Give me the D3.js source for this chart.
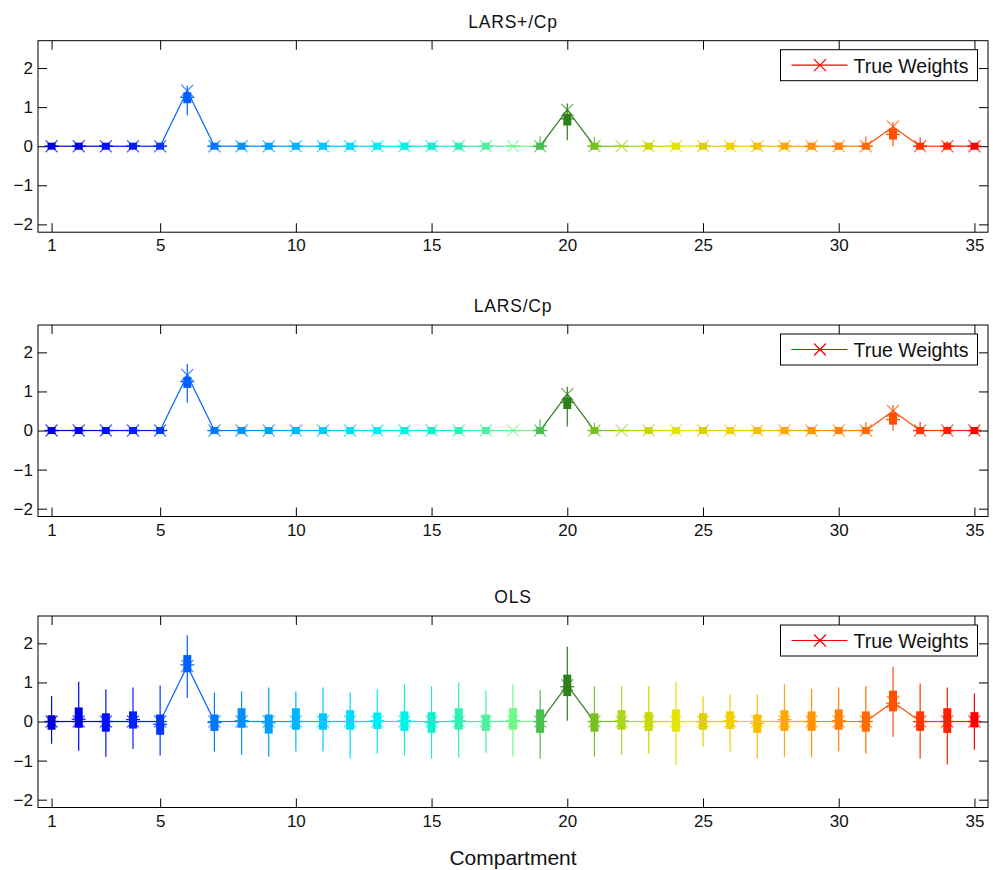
<!DOCTYPE html>
<html><head><meta charset="utf-8">
<script src="https://cdn.jsdelivr.net/npm/d3@7"></script>
<style>
body{margin:0;background:#fff;}
text{font-family:"Liberation Sans",Arial,Helvetica,sans-serif;fill:#111;}
</style></head>
<body><svg id="c" width="993" height="870"></svg>
<script>
// ---- data ----
const compartments = [1,2,3,4,5,6,7,8,9,10,11,12,13,14,15,16,17,18,19,20,21,22,23,24,25,26,27,28,29,30,31,32,33,34,35];
const xTicks = [1,5,10,15,20,25,30,35];
const yTicks = [-2,-1,0,1,2];
const panelTitles = ["LARS+/Cp","LARS/Cp","OLS"];
const legendLabel = "True Weights";
const xLabel = "Compartment";
const colors = ["#0000d8","#0000f0","#0010ff","#0020ff","#0038ff","#0060ff","#0078ff","#0090ff","#00a0ff","#00b4ff",
  "#00c8ff","#00dcff","#00ecf8","#00f4e8","#10f0d0","#30f0b8","#50f0a0","#70f888","#48c050","#2e8018",
  "#78c020","#a8d818","#c8d800","#e4e400","#dcd000","#f0d000","#f8bc00","#ffa800","#ff9400","#ff8000",
  "#ff6c00","#ff5000","#ff3800","#ff2000","#ff0000"];
const trueWeights = [0,0,0,0,0,1.42,0,0,0,0, 0,0,0,0,0,0,0,0,0,0.93, 0,0,0,0,0,0,0,0,0,0, 0,0.5,0,0,0];

// LARS+/Cp
const larsPlusQ1  = [0,0,0,0,0,1.10,0,0,0,0, 0,0,0,0,0,0,0,null,0,0.53, 0,null,0,0,0,0,0,0,0,0, 0,0.17,0,0,0];
const larsPlusQ3  = [0,0,0,0,0,1.38,0,0,0,0, 0,0,0,0,0,0,0,null,0,0.83, 0,null,0,0,0,0,0,0,0,0, 0,0.45,0,0,0];
const larsPlusMed = [0,0,0,0,0,1.25,0,0,0,0, 0,0,0,0,0,0,0,0,0,0.70, 0,0,0,0,0,0,0,0,0,0, 0,0.30,0,0,0];
const larsPlusLo  = [0,0,0,0,0,0.79,0,0,0,0, 0,0,0,0,0,0,0,0,0,0.15, 0,0,0,0,0,0,0,0,0,0, 0,0,0,0,0];
const larsPlusHi  = [0,0,0,0,0,1.55,0,0,0,0, 0,0,0,0,0,0,0,0,0.25,1.09, 0.24,0,0,0,0,0,0,0,0,0, 0.25,0.62,0.22,0.12,0];

// LARS/Cp
const larsQ1  = [0,0,0,0,0,1.09,0,0,0,0, 0,0,0,0,0,0,0,null,0,0.55, 0,null,0,0,0,0,0,0,0,0, 0,0.15,0,0,0];
const larsQ3  = [0,0,0,0,0,1.37,0,0,0,0, 0,0,0,0,0,0,0,null,0,0.85, 0,null,0,0,0,0,0,0,0,0, 0,0.45,0,0,0];
const larsMed = [0,0,0,0,0,1.25,0,0,0,0, 0,0,0,0,0,0,0,0,0,0.72, 0,0,0,0,0,0,0,0,0,0, 0,0.28,0,0,0];
const larsLo  = [0,0,0,0,0,0.71,0,0,0,0, 0,0,0,0,0,0,0,0,0,0.10, 0,0,0,0,0,0,0,0,0,0, 0,0,0,0,0];
const larsHi  = [0,0,0,0,0,1.70,0,0,0,0, 0,0,0,0,0,0,0,0,0.28,1.12, 0.2,0,0,0,0,0,0,0,0,0, 0.22,0.65,0.22,0.1,0];

// OLS
const olsQ1  = [-0.21,-0.16,-0.26,-0.18,-0.34,1.26,-0.24,-0.16,-0.31,-0.21, -0.21,-0.21,-0.19,-0.24,-0.29,-0.21,-0.24,-0.21,-0.29,0.65,
  -0.26,-0.21,-0.24,-0.26,-0.21,-0.19,-0.29,-0.24,-0.24,-0.21, -0.26,0.26,-0.24,-0.29,-0.15];
const olsQ3  = [0.16,0.36,0.21,0.26,0.18,1.70,0.18,0.34,0.18,0.34, 0.21,0.29,0.23,0.26,0.24,0.34,0.18,0.34,0.31,1.20,
  0.21,0.29,0.24,0.31,0.21,0.26,0.18,0.29,0.26,0.31, 0.26,0.79,0.26,0.34,0.24];
const olsMed = [0,0.06,0,0.05,-0.07,1.45,-0.03,0.02,-0.03,0, 0,0,0.02,0.02,-0.03,0.02,0,0.03,0,0.89,
  0,0.02,0,0,0,0.02,-0.05,0.05,0,0.02, 0,0.47,0,0,0];
const olsLo  = [-0.57,-0.75,-0.90,-0.70,-0.87,0.60,-0.77,-0.85,-0.90,-0.77, -0.77,-0.95,-0.82,-0.87,-0.95,-0.92,-0.80,-0.90,-0.95,0.02,
  -0.90,-0.85,-0.82,-1.12,-0.64,-0.77,-0.95,-0.90,-0.92,-0.77, -0.82,-0.39,-0.95,-1.10,-0.72];
const olsHi  = [0.65,1.02,0.82,0.87,0.92,2.21,0.74,0.77,0.87,0.77, 0.87,0.74,0.82,0.95,0.90,1.00,0.80,0.95,0.80,1.91,
  0.90,0.90,0.90,1.02,0.64,0.69,0.69,0.95,0.84,0.87, 0.90,1.40,0.97,0.87,0.72];

const panels = [
  {title: panelTitles[0], q1: larsPlusQ1, q3: larsPlusQ3, med: larsPlusMed, lo: larsPlusLo, hi: larsPlusHi},
  {title: panelTitles[1], q1: larsQ1, q3: larsQ3, med: larsMed, lo: larsLo, hi: larsHi},
  {title: panelTitles[2], q1: olsQ1, q3: olsQ3, med: olsMed, lo: olsLo, hi: olsHi}
];

// ---- layout ----
const svg = d3.select("#c");
const left = 38, right = 988, ph = 191.5;
const tops = [40.7, 325, 616];
const x = d3.scaleLinear().domain([0.5, 35.5]).range([left, right]);
const tickLen = 9;

panels.forEach((p, pi) => {
  const top = tops[pi], bottom = top + ph;
  const y = d3.scaleLinear().domain([-2.2, 2.7]).range([bottom, top]);
  const g = svg.append("g");

  // title
  g.append("text").attr("x", (left+right)/2).attr("y", top - 13)
    .attr("text-anchor","middle").style("font-size","17.5px").style("letter-spacing","0.8px").text(p.title);

  // axes with inward ticks on all four sides
  const axB = d3.axisBottom(x).tickValues(xTicks).tickSize(-tickLen).tickPadding(tickLen+6).tickFormat(d3.format("d"));
  const axT = d3.axisTop(x).tickValues(xTicks).tickSize(-tickLen).tickFormat("");
  const axL = d3.axisLeft(y).tickValues(yTicks).tickSize(-tickLen).tickPadding(5).tickFormat(d => d < 0 ? "\u2212" + Math.abs(d) : d);
  const axR = d3.axisRight(y).tickValues(yTicks).tickSize(-tickLen).tickFormat("");
  const gb = g.append("g").attr("transform",`translate(0,${bottom})`).call(axB);
  const gt = g.append("g").attr("transform",`translate(0,${top})`).call(axT);
  const gl = g.append("g").attr("transform",`translate(${left},0)`).call(axL);
  const gr = g.append("g").attr("transform",`translate(${right},0)`).call(axR);
  [gb,gt,gl,gr].forEach(a => {
    a.select(".domain").remove();
    a.selectAll("line").attr("stroke","#000").attr("stroke-width",1);
    a.selectAll("text").style("font-size","17px").attr("fill","#111").style("font-family","'Liberation Sans',Arial,sans-serif");
  });
  gb.selectAll("text").attr("dy","0.71em").attr("y", 7);
  gl.selectAll("text").attr("x", -5);
  g.append("rect").attr("x",left).attr("y",top).attr("width",right-left).attr("height",ph)
    .attr("fill","none").attr("stroke","#000").attr("stroke-width",1);

  const clip = g.append("g");

  // true weights: connecting segments
  for (let i = 0; i < compartments.length - 1; i++) {
    const a = trueWeights[i], b = trueWeights[i+1];
    const col = b !== 0 ? colors[i+1] : (a !== 0 ? colors[i] : colors[i]);
    clip.append("line").attr("x1", x(compartments[i])).attr("y1", y(a))
      .attr("x2", x(compartments[i+1])).attr("y2", y(b)).attr("stroke", col).attr("stroke-width",1.2);
  }
  compartments.forEach((c, i) => {
    if (trueWeights[i] === 0) {
      clip.append("line").attr("x1", x(c - 0.25)).attr("x2", x(c + 0.25))
        .attr("y1", y(0)).attr("y2", y(0)).attr("stroke", colors[i]).attr("stroke-width",1.2);
    }
  });

  // boxes
  compartments.forEach((c, i) => {
    const cx = x(c), col = colors[i];
    if (p.hi[i] !== p.lo[i]) {
      clip.append("line").attr("x1",cx).attr("x2",cx).attr("y1",y(p.lo[i])).attr("y2",y(p.hi[i]))
        .attr("stroke",col).attr("stroke-width",1.2);
    }
    if (p.q1[i] !== null) {
      let y1 = y(p.q3[i]), y2 = y(p.q1[i]);
      if (y2 - y1 < 7) { const m = (y1+y2)/2; y1 = m - 3.5; y2 = m + 3.5; }
      clip.append("rect").attr("x", cx - 4).attr("width", 8).attr("y", y1).attr("height", y2 - y1).attr("fill", col);
    }
    clip.append("line").attr("x1",cx-7).attr("x2",cx+7).attr("y1",y(p.med[i])).attr("y2",y(p.med[i]))
      .attr("stroke",col).attr("stroke-width",1.2);
  });

  // X markers for true weights
  compartments.forEach((c, i) => {
    const cx = x(c), cy = y(trueWeights[i]), s = 6;
    const mk = clip.append("g").attr("stroke", colors[i]).attr("stroke-width",1.2).attr("opacity",0.7);
    mk.append("line").attr("x1",cx-s).attr("y1",cy-s).attr("x2",cx+s).attr("y2",cy+s);
    mk.append("line").attr("x1",cx-s).attr("y1",cy+s).attr("x2",cx+s).attr("y2",cy-s);
  });

  // legend
  const lx = 780.5, ly = top + 9, lw = 197, lh = 31;
  const lg = g.append("g");
  lg.append("rect").attr("x",lx).attr("y",ly).attr("width",lw).attr("height",lh).attr("fill","#fff").attr("stroke","#000").attr("stroke-width",1);
  const col = colors[colors.length-1];
  lg.append("line").attr("x1",lx+11).attr("x2",lx+67).attr("y1",ly+lh/2).attr("y2",ly+lh/2).attr("stroke",col).attr("stroke-width",1.2);
  const mx = lx+39.5, my = ly+lh/2, s = 6;
  lg.append("line").attr("x1",mx-s).attr("y1",my-s).attr("x2",mx+s).attr("y2",my+s).attr("stroke",col).attr("stroke-width",1.2);
  lg.append("line").attr("x1",mx-s).attr("y1",my+s).attr("x2",mx+s).attr("y2",my-s).attr("stroke",col).attr("stroke-width",1.2);
  lg.append("text").attr("x", lx+73).attr("y", ly+23).style("font-size","19.5px").text(legendLabel);
});

svg.append("text").attr("x", (left+right)/2).attr("y", 865).attr("text-anchor","middle")
  .style("font-size","21px").text(xLabel);
</script>
</body></html>
